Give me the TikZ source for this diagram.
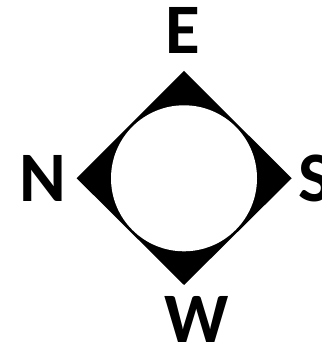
\documentclass[tikz,border=0pt]{standalone}
\usepackage{fontspec}
\setmainfont{Carlito}
\begin{document}
\begin{tikzpicture}[x=1pt,y=1pt,
  letter/.style={inner sep=0pt,font=\fontsize{71}{71}\selectfont\bfseries}]
\useasboundingbox (0,0) rectangle (321,350);
\coordinate (c) at (184,171.7);
\coordinate (top) at (184,279);
\coordinate (right) at (291.7,171.7);
\coordinate (bot) at (184,65);
\coordinate (left) at (76.7,171.7);
\fill[black] (top) -- (right) -- (bot) -- (left) -- cycle;
\fill[white] (c) circle (73);
\node[letter,anchor=base] (E) at (182.5,296) {E};
\node[letter,anchor=base] (N) at (43,148) {N};
\node[letter,anchor=base west] (S) at (298,148) {S};
\node[letter,anchor=base] (W) at (196.5,7) {W};
\end{tikzpicture}
\end{document}
